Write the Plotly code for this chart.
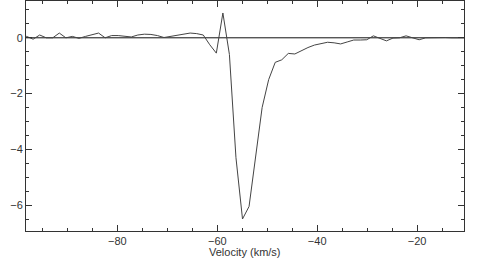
import plotly.graph_objects as go

velocity = [-99.49, -98.18, -96.87, -95.56, -94.25, -92.94, -91.63, -90.32, -89.01, -87.70,
            -86.39, -85.08, -83.77, -82.46, -81.15, -79.84, -78.53, -77.22, -75.91, -74.60,
            -73.29, -71.98, -70.67, -69.36, -68.05, -66.74, -65.43, -64.12, -62.81, -61.50,
            -60.19, -58.88, -57.57, -56.26, -54.95, -53.64, -52.33, -51.02, -49.71, -48.40,
            -47.09, -45.78, -44.47, -43.16, -41.85, -40.54, -39.23, -37.92, -36.61, -35.30,
            -33.99, -32.68, -31.37, -30.06, -28.75, -27.44, -26.13, -24.82, -23.51, -22.20,
            -20.89, -19.58, -18.27, -16.96, -15.65, -14.34, -13.03, -11.72, -10.41]
flux = [0.0, 0.05, -0.05, 0.10, 0.0, 0.0, 0.17, 0.0, 0.05, -0.02,
        0.05, 0.10, 0.17, 0.0, 0.08, 0.08, 0.06, 0.03, 0.10, 0.13,
        0.12, 0.08, 0.01, 0.05, 0.10, 0.14, 0.17, 0.15, 0.10, -0.25,
        -0.55, 0.89, -0.60, -4.30, -6.50, -6.05, -4.20, -2.50, -1.50, -0.88,
        -0.79, -0.56, -0.58, -0.45, -0.35, -0.26, -0.20, -0.16, -0.18, -0.22,
        -0.15, -0.08, -0.08, -0.07, 0.07, -0.03, -0.11, -0.01, 0.0, 0.07,
        0.0, -0.07, 0.0, 0.01, 0.0, 0.01, 0.0, 0.01, 0.0]

x_range = [-98.3, -10.6]
y_range = [-6.93, 1.32]
x_ticks = [-80, -60, -40, -20]
y_ticks = [-6, -4, -2, 0]

FONT = dict(family="Liberation Sans", size=11, color="#333333")

fig = go.Figure()
fig.add_trace(go.Scatter(x=x_range, y=[0, 0], mode="lines",
                         line=dict(color="#111111", width=1), hoverinfo="skip"))
fig.add_trace(go.Scatter(x=velocity, y=flux, mode="lines",
                         line=dict(color="#444444", width=1)))

axis_common = dict(
    showgrid=False, zeroline=False, showline=True, linecolor="#333333", linewidth=1,
    mirror="ticks", ticks="inside", ticklen=6, tickcolor="#333333", tickwidth=1,
    tickfont=FONT, automargin=False,
)

fig.update_xaxes(range=x_range, tickvals=x_ticks, ticktext=["\u221280", "\u221260", "\u221240", "\u221220"],
                 minor=dict(ticks="inside", ticklen=3, dtick=5, tick0=0, tickcolor="#333333", showgrid=False),
                 **axis_common)
fig.update_yaxes(range=y_range, tickvals=y_ticks, ticktext=["\u22126", "\u22124", "\u22122", "0"],
                 minor=dict(ticks="inside", ticklen=3, dtick=0.5, tick0=0, tickcolor="#333333", showgrid=False),
                 **axis_common)

fig.add_annotation(text="Velocity (km/s)", xref="paper", yref="paper", x=0.5, y=-21 / 230,
                   xanchor="center", yanchor="middle", showarrow=False, font=FONT)

fig.update_layout(
    width=480, height=262, showlegend=False,
    margin=dict(l=26, r=16, t=1, b=31),
    paper_bgcolor="white", plot_bgcolor="white",
)

fig.write_html("out.html", config={"displayModeBar": False},
               post_script="document.body.style.margin='0';document.body.style.padding='0';")
